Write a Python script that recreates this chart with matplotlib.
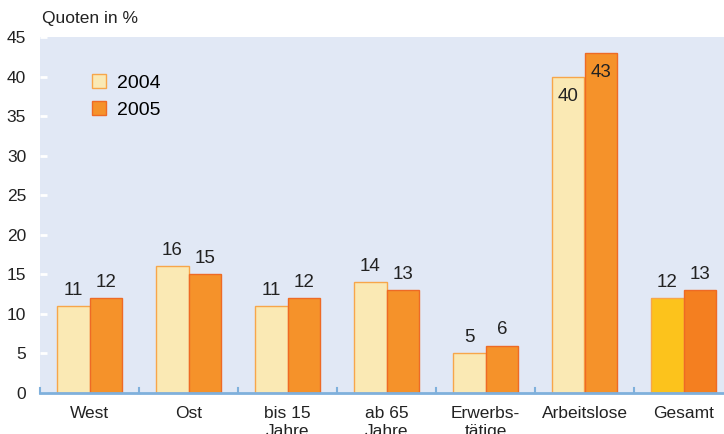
import matplotlib.pyplot as plt
import numpy as np

# data
categories = ['West', 'Ost', 'bis 15\nJahre', 'ab 65\nJahre', 'Erwerbs-\ntätige', 'Arbeitslose', 'Gesamt']
quote_2004 = [11, 16, 11, 14, 5, 40, 12]
quote_2005 = [12, 15, 12, 13, 6, 43, 13]
years = ['2004', '2005']

BG = '#e1e8f5'
FILL_04 = '#fae9b4'
EDGE_04 = '#f7a64a'
FILL_05 = '#f5922a'
EDGE_05 = '#ee6a25'
GESAMT_04 = '#fcc31c'
GESAMT_05 = '#f47f20'
AXIS_BLUE = '#7fb0dc'

plt.rcParams['font.family'] = 'Liberation Sans'
plt.rcParams['font.size'] = 12

fig = plt.figure(figsize=(7.24, 4.34), dpi=100)
ax = fig.add_axes([40 / 724, 41 / 434, 1 - 40 / 724, 356 / 434])
ax.set_facecolor(BG)

x = np.arange(len(categories))
w = 0.33
fills04 = [FILL_04] * (len(categories) - 1) + [GESAMT_04]
fills05 = [FILL_05] * (len(categories) - 1) + [GESAMT_05]
b04 = ax.bar(x - w / 2, quote_2004, w, color=fills04, edgecolor=EDGE_04, linewidth=1, label=years[0], zorder=2)
b05 = ax.bar(x + w / 2, quote_2005, w, color=fills05, edgecolor=EDGE_05, linewidth=1, label=years[1], zorder=2)

for bars, vals in ((b04, quote_2004), (b05, quote_2005)):
    for rect, v in zip(bars, vals):
        cx = rect.get_x() + rect.get_width() / 2
        if v > 30:
            ax.text(cx, v - 1.4, str(v), ha='center', va='top', fontsize=13.5, color='#222222')
        else:
            ax.text(cx, v + 0.9, str(v), ha='center', va='bottom', fontsize=13.5, color='#222222')

ax.set_xlim(-0.5, (724 - 40) / 99 - 0.5)
ax.set_ylim(0, 45)
ax.set_yticks(np.arange(0, 46, 5))
ax.tick_params(axis='y', direction='in', length=5, width=2, color='white', pad=10, labelsize=12.5)
ax.set_yticklabels([str(t) for t in range(0, 46, 5)], color='#222222')

ax.set_xticks(x)
ax.set_xticklabels(categories, fontsize=12.5, color='#222222', va='top', linespacing=1.3)
ax.tick_params(axis='x', length=0, pad=9)
# small boundary ticks on the x axis
for b in np.arange(-0.5, len(categories), 1.0):
    ax.plot([b, b], [0, 0.6], color=AXIS_BLUE, lw=1.5, zorder=3, clip_on=False)

for side in ('top', 'right', 'left'):
    ax.spines[side].set_visible(False)
ax.spines['bottom'].set_color(AXIS_BLUE)
ax.spines['bottom'].set_linewidth(2)

fig.text(42 / 724, 1 - 19 / 434, 'Quoten in %', fontsize=12.5, va='center', ha='left', color='#222222')

leg = ax.legend(loc='upper left', bbox_to_anchor=(0.05, 0.945), frameon=False, fontsize=14,
                handlelength=0.75, handleheight=0.75, handletextpad=0.55, labelspacing=0.45)

fig.savefig('out.png', dpi=100)
